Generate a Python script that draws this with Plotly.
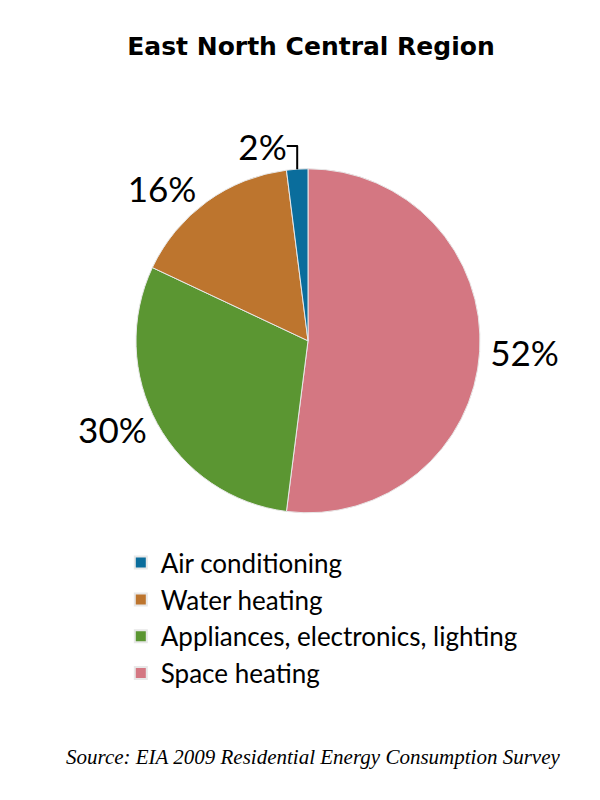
import plotly.graph_objects as go

# end-use shares, East North Central region (EIA RECS 2009)
labels = ["Space heating", "Appliances, electronics, lighting", "Water heating", "Air conditioning"]
shares = [52, 30, 16, 2]
colors = ["#d47782", "#5b9632", "#bd752e", "#0a6d9c"]

fig = go.Figure(go.Pie(
    labels=labels,
    values=shares,
    sort=False,
    direction="clockwise",
    rotation=0,
    marker=dict(colors=colors, line=dict(color="#e8e8e8", width=1)),
    texttemplate="%{percent:.0%}",
    textposition="outside",
    outsidetextfont=dict(family="Lato", size=35, color="black"),
    automargin=False,
    domain=dict(x=[0, 1], y=[0.369, 0.799]),
    hoverinfo="label+percent",
))

fig.update_layout(
    width=600, height=800,
    margin=dict(l=0, r=0, t=0, b=0),
    paper_bgcolor="white",
    title=dict(text="<b>East North Central Region</b>", x=0.505, xanchor="center",
               y=0.952, yanchor="middle",
               font=dict(family="DejaVu Sans", size=25, color="black")),
    legend=dict(x=0.188, xanchor="left", y=0.336, yanchor="top",
                traceorder="reversed",
                font=dict(family="Lato", size=26, color="black"),
                itemsizing="constant"),
    annotations=[dict(text="<i>Source: EIA 2009 Residential Energy Consumption Survey</i>",
                      x=0.508, y=0.064, xref="paper", yref="paper",
                      xanchor="center", yanchor="middle", showarrow=False,
                      font=dict(family="Liberation Serif", size=21, color="black"))],
)

fig.write_html("out.html")
